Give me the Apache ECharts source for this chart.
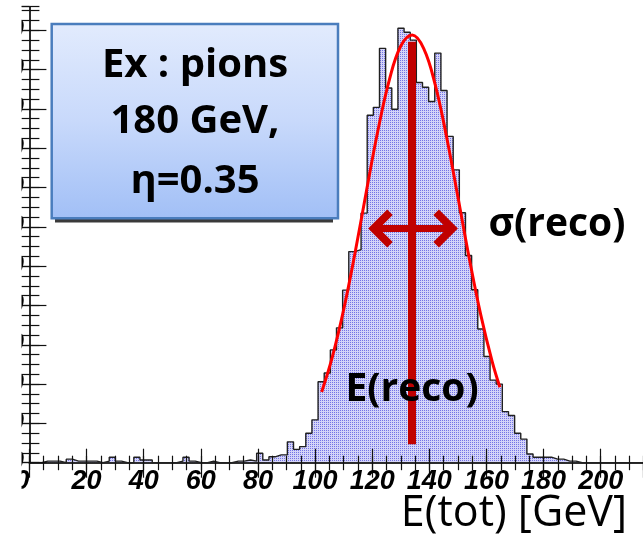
<!DOCTYPE html>
<html>
<head>
<meta charset="utf-8">
<script src="https://cdn.jsdelivr.net/npm/echarts/dist/echarts.min.js"></script>
<style>
  html, body { margin: 0; padding: 0; background: #ffffff; overflow: hidden; }
  #chart { width: 643px; height: 535px; }
</style>
</head>
<body>
<div id="chart"></div>
<script>
// Total reconstructed energy for 180 GeV pions at eta = 0.35
// Histogram: 100 bins between 0 and 215 GeV
const histLow = 0;
const histHigh = 215;
const binCounts = [
  0, 0, 0.4, 0.4, 0.4, 0, 0.9, 0.4, 0.4, 0.4,
  0.4, 0, 0.4, 1.4, 0.4, 0, 0, 1.4, 0.7, 0.7,
  0, 0, 0, 0, 0.4, 1.4, 0.4, 0, 0, 0.4,
  0, 0, 0, 0.4, 0.4, 0.7, 0.4, 2.4, 0.7, 1.5,
  2.0, 2.0, 5.3, 3.4, 4.1, 7.5, 10.9, 20.6, 22.8, 28.7,
  34.3, 43.9, 53.7, 54.2, 63.5, 88.4, 90.4, 105.4, 95.3, 89.9,
  110.5, 109.5, 107.5, 96.7, 95.5, 91.9, 104.2, 94.7, 83.0, 74.5,
  63.6, 52.7, 44, 34, 27, 21, 20, 13, 12, 7.5,
  6, 2.2, 1.4, 1.4, 1.4, 0.9, 0.9, 0.4, 0.4, 0,
  0, 0, 0, 0, 0, 0, 0, 0, 0, 0
];

// Gaussian fit curve, sampled along its drawn range
const fitEnergy = [102.3, 106, 110, 114, 118, 122, 126, 130, 134, 138, 142, 146, 150, 154, 158, 162, 164.7];
const fitCounts = [18.0, 26.8, 38.9, 53.4, 69.2, 84.5, 97.4, 106.0, 108.8, 105.4, 96.3, 83.0, 67.6, 51.9, 37.6, 25.7, 19.2];

// Reconstructed mean (vertical bar) and width (double arrow)
const recoMean = 134.0;
const recoBarRange = [4.7, 107.1];
const widthArrowFrom = 120.0;
const widthArrowTo = 148.6;
const widthArrowLevel = 59.6;

// Axis ranges
const xMax = histHigh;
const yMax = 116;

const boxLines = ['Ex : pions', '180 GeV,', '\u03b7=0.35'];

// Build the step outline of the histogram from the bin contents
const binWidth = (histHigh - histLow) / binCounts.length;
const histOutline = [[histLow, 0]];
binCounts.forEach(function (c, i) {
  const lo = histLow + i * binWidth;
  histOutline.push([lo, c], [lo + binWidth, c]);
});
histOutline.push([histHigh, 0]);

// Dotted fill (ROOT-like pattern)
function dotPattern() {
  const c = document.createElement('canvas');
  c.width = 2; c.height = 2;
  const g = c.getContext('2d');
  g.fillStyle = '#d4d4f8';
  g.fillRect(0, 0, 2, 2);
  g.fillStyle = '#7474e6';
  g.fillRect(0, 0, 1, 1);
  return c;
}

const tickFont = {
  fontFamily: 'Liberation Sans',
  fontStyle: 'italic',
  fontWeight: 'bold',
  fontSize: 27,
  color: '#000'
};
const frameLine = { show: true, lineStyle: { color: '#222', width: 1.5 } };
const tickLine = { color: '#111', width: 1.2 };

// chevron head, tip slightly ahead of the line end
const chevron = 'path://M0 -4 L19 15 L13.5 20.5 L0 7 L-13.5 20.5 L-19 15 Z M0 -20.5 L0.01 -20.5 Z';

const gridBox = { left: 29.4, right: -0.6, top: 6.7, bottom: 72.3, containLabel: false, outerBoundsMode: 'none' };

const chart = echarts.init(document.getElementById('chart'), null, { renderer: 'canvas' });

chart.setOption({
  animation: false,
  backgroundColor: '#ffffff',
  grid: [Object.assign({}, gridBox), Object.assign({}, gridBox)],
  xAxis: [
    {
      gridIndex: 0, type: 'value', position: 'bottom', min: 0, max: xMax, interval: 20, z: 10,
      axisLine: frameLine,
      axisTick: { show: true, inside: true, length: 14, lineStyle: tickLine },
      axisLabel: Object.assign({ margin: 5, showMaxLabel: false, alignMinLabel: 'right' }, tickFont),
      splitLine: { show: false }
    },
    {
      gridIndex: 0, type: 'value', position: 'top', min: 0, max: xMax, interval: 20, z: 10,
      axisLine: frameLine,
      axisTick: { show: true, inside: true, length: 15, lineStyle: tickLine },
      axisLabel: { show: false },
      splitLine: { show: false }
    },
    {
      gridIndex: 1, type: 'value', position: 'bottom', min: 0, max: xMax, interval: 5, z: 10,
      axisLine: { show: false },
      axisTick: { show: true, inside: true, length: 7, lineStyle: tickLine },
      axisLabel: { show: false },
      splitLine: { show: false }
    },
    {
      gridIndex: 1, type: 'value', position: 'top', min: 0, max: xMax, interval: 5, z: 10,
      axisLine: { show: false },
      axisTick: { show: true, inside: true, length: 7.5, lineStyle: tickLine },
      axisLabel: { show: false },
      splitLine: { show: false }
    }
  ],
  yAxis: [
    {
      gridIndex: 0, type: 'value', position: 'left', min: 0, max: yMax, interval: 10, z: 10,
      axisLine: frameLine,
      axisTick: { show: true, inside: true, length: 17, lineStyle: tickLine },
      axisLabel: Object.assign({ margin: 5.5, showMaxLabel: false }, tickFont),
      splitLine: { show: false }
    },
    {
      gridIndex: 0, type: 'value', position: 'right', min: 0, max: yMax, interval: 10, z: 10,
      axisLine: frameLine,
      axisTick: { show: true, inside: true, length: 17, lineStyle: tickLine },
      axisLabel: { show: false },
      splitLine: { show: false }
    },
    {
      gridIndex: 1, type: 'value', position: 'left', min: 0, max: yMax, interval: 2.5, z: 10,
      axisLine: { show: false },
      axisTick: { show: true, inside: true, length: 10, lineStyle: tickLine },
      axisLabel: { show: false },
      splitLine: { show: false }
    },
    {
      gridIndex: 1, type: 'value', position: 'right', min: 0, max: yMax, interval: 2.5, z: 10,
      axisLine: { show: false },
      axisTick: { show: true, inside: true, length: 8, lineStyle: tickLine },
      axisLabel: { show: false },
      splitLine: { show: false }
    }
  ],
  series: [
    {
      name: 'E(tot)',
      type: 'line',
      xAxisIndex: 0, yAxisIndex: 0,
      data: histOutline,
      showSymbol: false,
      symbol: 'none',
      z: 2,
      lineStyle: { color: '#202020', width: 1.4 },
      areaStyle: { color: { image: dotPattern(), repeat: 'repeat' }, opacity: 1, origin: 'start' },
      silent: true
    },
    {
      name: 'fit',
      type: 'line',
      xAxisIndex: 0, yAxisIndex: 0,
      data: fitEnergy.map(function (e, i) { return [e, fitCounts[i]]; }),
      smooth: 0.4,
      symbol: 'none',
      z: 3,
      lineStyle: { color: '#ff0000', width: 3 },
      silent: true,
      markLine: {
        silent: true,
        animation: false,
        label: { show: false },
        emphasis: { disabled: true },
        data: [
          [
            { coord: [recoMean, recoBarRange[0]], symbol: 'none', lineStyle: { color: '#c00000', width: 8, type: 'solid', cap: 'butt' } },
            { coord: [recoMean, recoBarRange[1]], symbol: 'none' }
          ],
          [
            { coord: [widthArrowFrom, widthArrowLevel], symbol: chevron, symbolSize: [38, 41], lineStyle: { color: '#c00000', width: 7, type: 'solid', cap: 'butt' } },
            { coord: [widthArrowTo, widthArrowLevel], symbol: chevron, symbolSize: [38, 41] }
          ]
        ]
      }
    }
  ],
  graphic: [
    // left edge of the picture is trimmed
    { type: 'rect', z: 100, shape: { x: 0, y: 0, width: 21.5, height: 535 }, style: { fill: '#ffffff' } },
    // text box shadow and body
    { type: 'rect', z: 40, shape: { x: 55, y: 200, width: 278, height: 22.5 }, style: { fill: '#3a3a3a' } },
    {
      type: 'rect', z: 41,
      shape: { x: 51.7, y: 24, width: 286.3, height: 194.3 },
      style: {
        fill: { type: 'linear', x: 0, y: 0, x2: 0, y2: 1,
          colorStops: [
            { offset: 0, color: '#e2ebfd' },
            { offset: 0.5, color: '#c8d9fb' },
            { offset: 1, color: '#a1bff6' }
          ] },
        stroke: '#4a7dbd', lineWidth: 2.5
      }
    },
    { type: 'text', z: 42, style: { text: boxLines[0], x: 195, y: 66, align: 'center', verticalAlign: 'middle', font: 'bold 40px "Open Sans"', fill: '#000' } },
    { type: 'text', z: 42, style: { text: boxLines[1], x: 195, y: 122, align: 'center', verticalAlign: 'middle', font: 'bold 40px "Open Sans"', fill: '#000' } },
    { type: 'text', z: 42, style: { text: boxLines[2], x: 195, y: 182, align: 'center', verticalAlign: 'middle', font: 'bold 40px "Open Sans"', fill: '#000' } },
    // annotations
    { type: 'text', z: 42, style: { text: '\u03c3(reco)', x: 557, y: 225, align: 'center', verticalAlign: 'middle', font: 'bold 39px "Open Sans"', fill: '#000' } },
    { type: 'text', z: 42, style: { text: 'E(reco)', x: 412, y: 390, align: 'center', verticalAlign: 'middle', font: 'bold 39px "Open Sans"', fill: '#000' } },
    // axis title
    { type: 'text', z: 42, style: { text: 'E(tot) [GeV]', x: 627, y: 514, align: 'right', verticalAlign: 'middle', font: '43px "Open Sans"', fill: '#000' } }
  ]
});
</script>
</body>
</html>
